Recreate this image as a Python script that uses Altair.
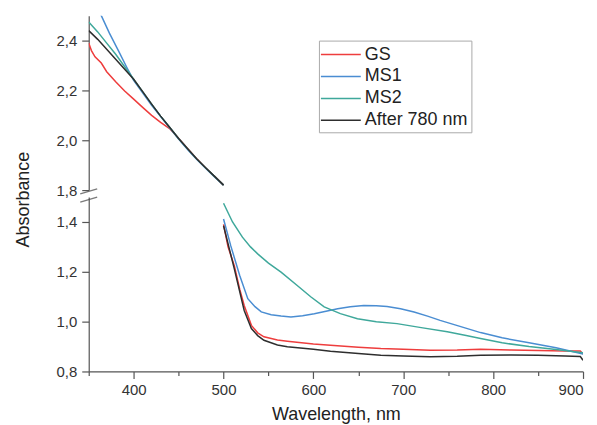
import altair as alt
import pandas as pd

series = ["GS", "MS1", "MS2", "After 780 nm"]
colors = ["#ee3d3d", "#4a8dd2", "#3fa89b", "#2e2e2e"]

# ---- upper panel (350-500 nm, absorbance 1.8-2.5) ----
gs_up_x = [350, 353, 357, 364, 370, 380, 390, 400, 410, 420, 430, 440, 450, 460, 470, 480, 490, 500]
gs_up_y = [2.39, 2.36, 2.335, 2.31, 2.275, 2.235, 2.198, 2.165, 2.132, 2.10, 2.072, 2.047, 2.008, 1.967, 1.927, 1.89, 1.855, 1.82]
ms1_up_x = [350, 357, 364, 373, 383, 392, 400, 410, 420, 430, 440, 450, 460, 470, 480, 490, 500]
ms1_up_y = [2.60, 2.55, 2.50, 2.43, 2.36, 2.295, 2.24, 2.19, 2.14, 2.095, 2.05, 2.005, 1.963, 1.924, 1.888, 1.853, 1.82]
ms2_up_x = [350, 360, 370, 380, 390, 400, 410, 420, 430, 440, 450, 460, 470, 480, 490, 500]
ms2_up_y = [2.475, 2.435, 2.39, 2.345, 2.295, 2.245, 2.195, 2.145, 2.097, 2.052, 2.007, 1.966, 1.926, 1.89, 1.855, 1.82]
aft_up_x = [350, 360, 370, 380, 390, 400, 410, 420, 430, 440, 450, 460, 470, 480, 490, 500]
aft_up_y = [2.44, 2.405, 2.365, 2.325, 2.285, 2.245, 2.195, 2.145, 2.097, 2.052, 2.007, 1.966, 1.926, 1.89, 1.855, 1.82]

# ---- lower panel (500-900 nm, absorbance 0.8-1.5) ----
gs_lo_x = [500, 505, 512, 518, 523, 531, 538, 545, 560, 571, 600, 619, 650, 675, 700, 730, 760, 786, 820, 850, 880, 897, 900]
gs_lo_y = [1.39, 1.30, 1.225, 1.13, 1.065, 0.985, 0.955, 0.939, 0.926, 0.921, 0.91, 0.905, 0.897, 0.892, 0.889, 0.885, 0.886, 0.889, 0.886, 0.884, 0.882, 0.882, 0.87]
ms1_lo_x = [500, 508, 518, 527, 535, 542, 553, 564, 575, 588, 601, 614, 627, 641, 656, 670, 682, 697, 712, 727, 741, 764, 786, 810, 840, 870, 900]
ms1_lo_y = [1.412, 1.305, 1.185, 1.092, 1.06, 1.039, 1.028, 1.023, 1.019, 1.024, 1.032, 1.042, 1.052, 1.06, 1.065, 1.064, 1.061, 1.052, 1.039, 1.022, 1.005, 0.98, 0.956, 0.935, 0.915, 0.895, 0.87]
ms2_lo_x = [500, 510, 521, 530, 538, 550, 564, 582, 597, 612, 630, 649, 670, 693, 720, 749, 770, 786, 810, 840, 870, 900]
ms2_lo_y = [1.475, 1.40, 1.339, 1.30, 1.272, 1.235, 1.199, 1.145, 1.10, 1.059, 1.032, 1.012, 1.0, 0.992, 0.976, 0.959, 0.944, 0.932, 0.915, 0.9, 0.888, 0.875]
aft_lo_x = [500, 512, 523, 531, 538, 545, 560, 571, 600, 619, 650, 675, 700, 730, 760, 786, 820, 850, 880, 897, 900]
aft_lo_y = [1.385, 1.212, 1.045, 0.972, 0.944, 0.925, 0.906, 0.899, 0.889, 0.881, 0.872, 0.865, 0.862, 0.859, 0.861, 0.865, 0.866, 0.865, 0.862, 0.86, 0.845]

# axis break positions
break_x = [350]
break_top = [1.795]
break_bottom = [1.49]

x_ticks = [350, 400, 450, 500, 550, 600, 650, 700, 750, 800, 850, 900]
y_ticks_top = [1.8, 1.9, 2.0, 2.1, 2.2, 2.3, 2.4, 2.5]
y_ticks_bottom = [0.8, 0.9, 1.0, 1.1, 1.2, 1.3, 1.4]


def frame(xs, ys):
    rows = []
    for s, xx, yy in zip(series, xs, ys):
        for i, (a, b) in enumerate(zip(xx, yy)):
            rows.append({"wl": a, "A": b, "series": s, "i": i})
    return pd.DataFrame(rows)


up = frame([gs_up_x, ms1_up_x, ms2_up_x, aft_up_x], [gs_up_y, ms1_up_y, ms2_up_y, aft_up_y])
lo = frame([gs_lo_x, ms1_lo_x, ms2_lo_x, aft_lo_x], [gs_lo_y, ms1_lo_y, ms2_lo_y, aft_lo_y])

W = 496
H = 175

xscale = alt.Scale(domain=[350, 900], nice=False, zero=False)
color_scale = alt.Scale(domain=series, range=colors)

ylabel_expr = "round(datum.value*10) % 2 == 0 ? replace(format(datum.value, '.1f'), '.', ',') : ''"
ytick_size = {"condition": {"test": "round(datum.value*10) % 2 == 0", "value": 7}, "value": 4}
xtick_size = {"condition": {"test": "datum.value % 100 == 0", "value": 7}, "value": 4}

top_lines = alt.Chart(up).mark_line(strokeWidth=1.5, clip=True).encode(
    x=alt.X("wl:Q", scale=xscale, axis=None),
    y=alt.Y("A:Q", scale=alt.Scale(domain=[1.8, 2.5], nice=False, zero=False),
            axis=alt.Axis(values=y_ticks_top, labelExpr=ylabel_expr, tickSize=ytick_size,
                          title=None, labelPadding=5)),
    color=alt.Color("series:N", scale=color_scale, sort=series,
                    legend=alt.Legend(title=None, orient="none", legendX=231, legendY=25,
                                      symbolType="M-1.2,0H2.8", symbolSize=400, symbolStrokeWidth=1.5,
                                      symbolFillColor="transparent",
                                      labelFontSize=18, labelOffset=21, rowPadding=2,
                                      padding=3, strokeColor="#aaaaaa", labelColor="#222")),
    order="i:Q",
)

brk_top = alt.Chart(pd.DataFrame({"wl": break_x, "A": break_top})).mark_point(
    shape="M-1,0.3L1,-0.3", size=289, filled=False, color="#444", strokeWidth=1.3
).encode(x=alt.X("wl:Q", scale=xscale, axis=None), y="A:Q")

top = alt.layer(top_lines, brk_top).properties(width=W, height=H)

bot_lines = alt.Chart(lo).mark_line(strokeWidth=1.5, clip=True).encode(
    x=alt.X("wl:Q", scale=xscale,
            axis=alt.Axis(values=x_ticks, tickSize=xtick_size,
                          labelExpr="datum.value % 100 == 0 ? datum.label : ''",
                          title="Wavelength, nm", titleFontSize=18, titleFontWeight="normal",
                          titlePadding=8, labelPadding=4)),
    y=alt.Y("A:Q", scale=alt.Scale(domain=[0.8, 1.5], nice=False, zero=False),
            axis=alt.Axis(values=y_ticks_bottom, labelExpr=ylabel_expr, tickSize=ytick_size,
                          title="Absorbance", titleFontSize=18, titleFontWeight="normal",
                          titleX=-56, titleY=2, labelPadding=5)),
    color=alt.Color("series:N", scale=color_scale, sort=series, legend=None),
    order="i:Q",
)

brk_bot = alt.Chart(pd.DataFrame({"wl": break_x, "A": break_bottom})).mark_point(
    shape="M-1,0.3L1,-0.3", size=289, filled=False, color="#444", strokeWidth=1.3
).encode(x=alt.X("wl:Q", scale=xscale), y="A:Q")

bottom = alt.layer(bot_lines, brk_bot).properties(width=W, height=H)

chart = alt.vconcat(top, bottom, spacing=7, bounds="flush").resolve_scale(
    y="independent"
).resolve_legend(color="independent").properties(
    padding={"left": 7, "top": 7, "right": 5, "bottom": 0}
).configure(
    font="Liberation Sans"
).configure_view(
    stroke=None
).configure_axis(
    grid=False, domainColor="#555", tickColor="#555", domainWidth=1.2, tickWidth=1.2,
    labelFontSize=15, labelColor="#333", titleColor="#222", labelFont="Liberation Sans",
    titleFont="Liberation Sans"
)

chart.save("out.html", embed_options={"renderer": "svg", "actions": False})
